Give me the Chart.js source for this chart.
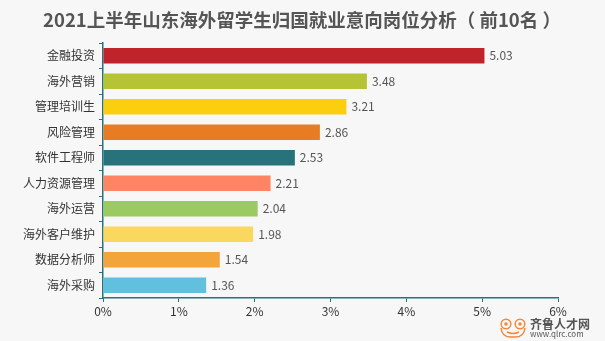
<!DOCTYPE html>
<html>
<head>
<meta charset="utf-8">
<script src="https://cdn.jsdelivr.net/npm/chart.js@4.4.1/dist/chart.umd.min.js"></script>
<style>
  html, body { margin: 0; padding: 0; background: #f7f7f7; }
  #wrap { width: 605px; height: 341px; position: relative; }
</style>
</head>
<body>
<div id="wrap"><canvas id="jobChart" width="605" height="341"></canvas></div>
<script>
// job categories, top 10
const categories = ["金融投资", "海外营销", "管理培训生", "风险管理", "软件工程师",
  "人力资源管理", "海外运营", "海外客户维护", "数据分析师", "海外采购"];
// share of respondents, %
const shares = [5.03, 3.48, 3.21, 2.86, 2.53, 2.21, 2.04, 1.98, 1.54, 1.36];
const xTicks = [0, 1, 2, 3, 4, 5, 6];
const barColors = ["#c1232b", "#b5c334", "#fcce10", "#e87c25", "#27727b",
  "#fe8463", "#9bca63", "#fad860", "#f3a43b", "#60c0dd"];

const FONT = "'Noto Sans CJK SC', 'Noto Sans', sans-serif";
const axisColor = "#27727b";

// value text at the end of each bar
const valueLabels = {
  id: "valueLabels",
  afterDatasetsDraw(chart) {
    const ctx = chart.ctx;
    const meta = chart.getDatasetMeta(0);
    ctx.save();
    ctx.font = "12px " + FONT;
    ctx.fillStyle = "#555";
    ctx.textAlign = "left";
    ctx.textBaseline = "middle";
    meta.data.forEach((bar, i) => {
      ctx.fillText(shares[i].toFixed(2), bar.x + 5, bar.y);
    });
    ctx.restore();
  },
};

// title and site mark
const decorations = {
  id: "decorations",
  afterDraw(chart) {
    const ctx = chart.ctx;
    ctx.save();
    ctx.fillStyle = "#555";
    ctx.font = "bold 18.5px " + FONT;
    ctx.textAlign = "center";
    ctx.textBaseline = "middle";
    ctx.fillText("2021上半年山东海外留学生归国就业意向岗位分析（ 前10名 ）", 302, 20);

    // frog logo
    ctx.strokeStyle = "#f08a3c";
    ctx.lineWidth = 1.5;
    ctx.beginPath();
    ctx.arc(506, 324, 4.8, 0, Math.PI * 2);
    ctx.moveTo(524.8, 324);
    ctx.arc(520, 324, 4.8, 0, Math.PI * 2);
    ctx.stroke();
    ctx.fillStyle = "#f08a3c";
    ctx.beginPath();
    ctx.arc(506, 324, 1.8, 0, Math.PI * 2);
    ctx.arc(520, 324, 1.8, 0, Math.PI * 2);
    ctx.fill();
    ctx.beginPath();
    ctx.moveTo(501, 328);
    ctx.quadraticCurveTo(502, 338, 513, 337);
    ctx.quadraticCurveTo(524, 338, 525, 328);
    ctx.stroke();
    ctx.beginPath();
    ctx.moveTo(507, 332);
    ctx.quadraticCurveTo(513, 335, 519, 332);
    ctx.stroke();

    ctx.fillStyle = "#555";
    ctx.font = "bold 12px " + FONT;
    ctx.textAlign = "left";
    ctx.fillText("齐鲁人才网", 530, 324);
    ctx.font = "8px " + FONT;
    ctx.fillText("www.qlrc.com", 530, 334);
    ctx.restore();
  },
};

new Chart(document.getElementById("jobChart"), {
  type: "bar",
  data: {
    labels: categories,
    datasets: [
      {
        data: shares,
        backgroundColor: barColors,
        barPercentage: 0.6,
        categoryPercentage: 1,
      },
    ],
  },
  options: {
    indexAxis: "y",
    responsive: false,
    animation: false,
    layout: { padding: { top: 43, right: 47, left: 0, bottom: 0 } },
    plugins: {
      legend: { display: false },
      tooltip: { enabled: false },
    },
    scales: {
      x: {
        min: 0,
        max: 6,
        afterBuildTicks: (scale) => {
          scale.ticks = xTicks.map((v) => ({ value: v }));
        },
        afterFit: (scale) => {
          scale.height = 43;
        },
        grid: { drawOnChartArea: false, tickLength: 4, color: axisColor },
        border: { color: axisColor, width: 1.5 },
        ticks: {
          color: "#333",
          font: { size: 12, family: FONT },
          padding: 2,
          callback: (v) => v + "%",
        },
      },
      y: {
        afterFit: (scale) => {
          scale.width = 103;
        },
        grid: { drawOnChartArea: false, tickLength: 4, color: axisColor },
        border: { color: axisColor, width: 1.5 },
        ticks: {
          color: "#333",
          font: { size: 12, family: FONT },
          padding: 4,
        },
      },
    },
  },
  plugins: [valueLabels, decorations],
});
</script>
</body>
</html>
